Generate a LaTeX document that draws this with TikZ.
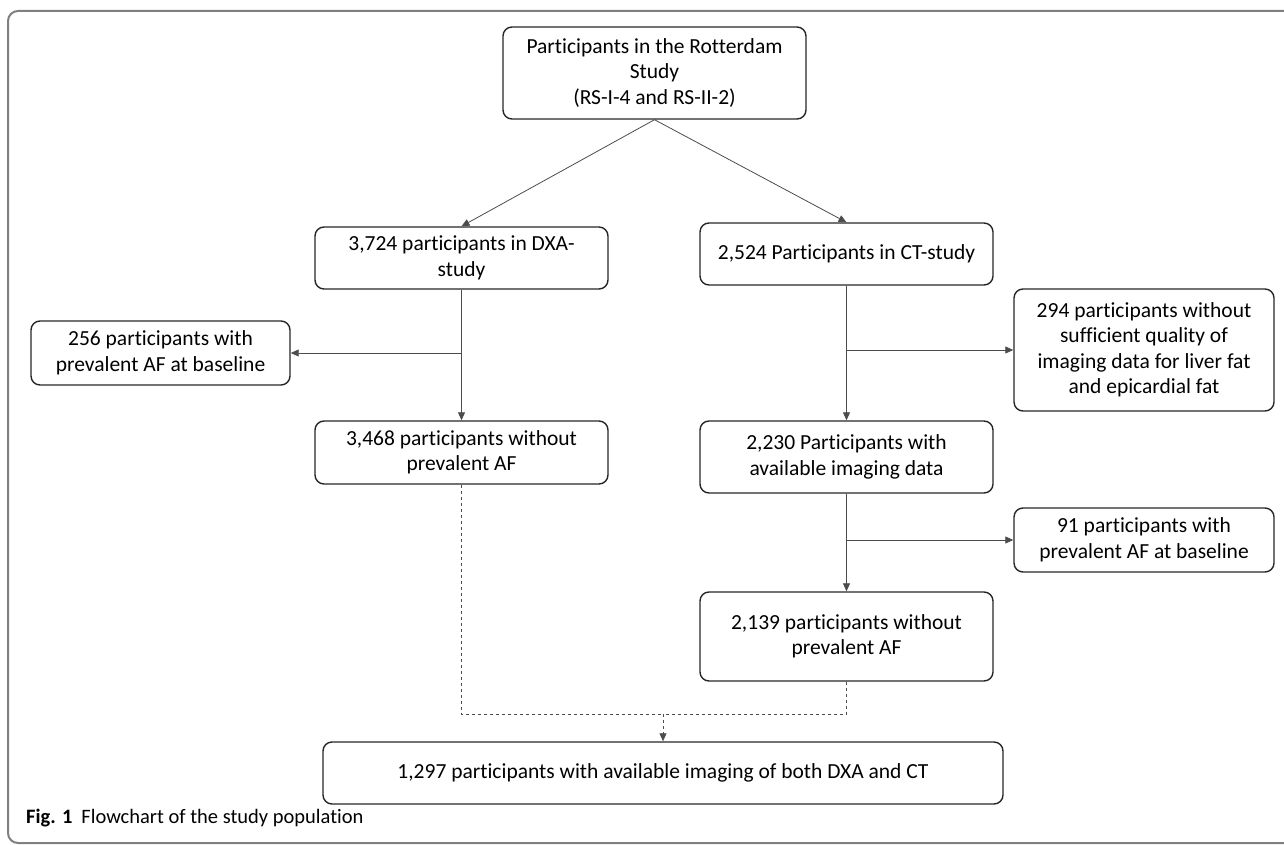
\documentclass[tikz,border=0pt]{standalone}
\usepackage{fontspec}
\setmainfont[Ligatures=NoCommon]{Carlito}
\usetikzlibrary{arrows.meta}

\begin{document}
\begin{tikzpicture}[x=1pt, y=-1pt, >={Triangle[length=8pt, width=7pt]}]
      \tikzset{BoxStyle/.style={draw=black!85, line width=1.4pt, rounded corners=9pt,
          align=center, inner sep=0pt, font=\fontsize{21.5}{25.5}\selectfont}}
      \tikzset{EdgeStyle/.style={draw=black!70, line width=0.8pt}}

      \useasboundingbox (0,0) rectangle (1284,845);
      \begin{scope}
        \clip (0,0) rectangle (1284,845);
        \draw[black!50, line width=2pt, rounded corners=10pt] (8,11) rectangle (1320,843);
      \end{scope}

      \begin{scope}[every node/.style={BoxStyle}]
        \node[minimum width=303pt, minimum height=92pt] (rs) at (654.5,73)
          {Participants in the Rotterdam\\Study\\(RS-I-4 and RS-II-2)};
        \node[minimum width=293pt, minimum height=62pt] (dxa) at (461.5,258)
          {3,724 participants in DXA-\\study};
        \node[minimum width=293pt, minimum height=62pt] (ct) at (846.5,254)
          {2,524 Participants in CT-study};
        \node[minimum width=259pt, minimum height=64pt] (afdxa) at (160.5,353)
          {256 participants with\\prevalent AF at baseline};
        \node[minimum width=293pt, minimum height=63pt] (dxaok) at (461.5,452.5)
          {3,468 participants without\\prevalent AF};
        \node[minimum width=260pt, minimum height=122pt] (lowq) at (1144,350)
          {294 participants without\\sufficient quality of\\imaging data for liver fat\\and epicardial fat};
        \node[minimum width=293pt, minimum height=72pt] (img) at (846.5,457)
          {2,230 Participants with\\available imaging data};
        \node[minimum width=260pt, minimum height=64pt] (afct) at (1144,540)
          {91 participants with\\prevalent AF at baseline};
        \node[minimum width=293pt, minimum height=89pt] (ctok) at (846.5,636.5)
          {2,139 participants without\\prevalent AF};
        \node[minimum width=680pt, minimum height=62pt] (both) at (663,773)
          {1,297 participants with available imaging of both DXA and CT};
      \end{scope}

      \draw[EdgeStyle, ->] (rs.south) -- (dxa.north);
      \draw[EdgeStyle, ->] (rs.south) -- (ct.north);

      \draw[EdgeStyle, ->] (dxa.south) -- (dxaok.north);
      \draw[EdgeStyle, ->] (dxa.south |- afdxa.east) -- (afdxa.east);

      \draw[EdgeStyle, ->] (ct.south) -- (img.north);
      \draw[EdgeStyle, ->] (ct.south |- lowq.west) -- (lowq.west);
      \draw[EdgeStyle, ->] (img.south) -- (ctok.north);
      \draw[EdgeStyle, ->] (img.south |- afct.west) -- (afct.west);

      % both cohorts joined
      \coordinate (join) at (663,714);
      \draw[EdgeStyle, dashed] (dxaok.south) |- (join);
      \draw[EdgeStyle, dashed] (ctok.south) |- (join);
      \draw[EdgeStyle, dashed, ->] (join) -- (both.north);

      \node[anchor=west, inner sep=0pt, font=\fontsize{20.5}{24}\selectfont] (caption) at (26,818)
        {\textbf{Fig. 1}\hspace{9pt}Flowchart of the study population};
\end{tikzpicture}
\end{document}
